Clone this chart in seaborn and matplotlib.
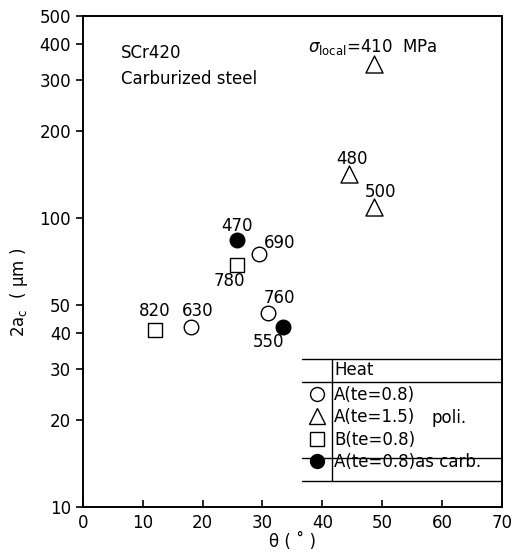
import matplotlib
matplotlib.use("Agg")
import matplotlib.pyplot as plt
import seaborn as sns
import pandas as pd
from matplotlib.ticker import NullLocator

# Data: theta (deg), 2ac (um), local stress (MPa)
theta_a08 = [18, 31, 29.5]
ac_a08 = [42, 47, 75]
sig_a08 = [630, 760, 690]

theta_a15 = [48.6, 44.5, 48.6]
ac_a15 = [340, 142, 109]
sig_a15 = [410, 480, 500]

theta_b08 = [12, 25.7]
ac_b08 = [41, 69]
sig_b08 = [820, 780]

theta_carb = [25.8, 33.5]
ac_carb = [84, 42]
sig_carb = [470, 550]

groups = ["A(te=0.8)", "A(te=1.5)", "B(te=0.8)", "A(te=0.8)as carb."]
y_ticks = [10, 20, 30, 40, 50, 100, 200, 300, 400, 500]
x_ticks = [0, 10, 20, 30, 40, 50, 60, 70]

df = pd.DataFrame({
    "theta": theta_a08 + theta_a15 + theta_b08 + theta_carb,
    "ac": ac_a08 + ac_a15 + ac_b08 + ac_carb,
    "sigma": sig_a08 + sig_a15 + sig_b08 + sig_carb,
    "group": [groups[0]] * 3 + [groups[1]] * 3 + [groups[2]] * 2 + [groups[3]] * 2,
})

# label offsets in pixels (per sigma value)
label_off = {630: (7, 16), 820: (0, 19), 760: (11, 15), 550: (-15, -15),
             470: (0, 14), 690: (20, 11), 780: (-7, -16),
             480: (3, 15), 500: (7, 15)}

sns.set_style("ticks")
plt.rcParams['font.family'] = ['DejaVu Sans']
plt.rcParams['text.color'] = 'black'
plt.rcParams['axes.labelcolor'] = 'black'
plt.rcParams['xtick.color'] = 'black'
plt.rcParams['ytick.color'] = 'black'
plt.rcParams['axes.edgecolor'] = 'black'

fig = plt.figure(figsize=(5.24, 5.58), dpi=100)
ax = fig.add_axes([0.158, 0.0914, 0.800, 0.880])

styles = {
    groups[0]: dict(marker="o", facecolor="white"),
    groups[1]: dict(marker="^", facecolor="white"),
    groups[2]: dict(marker="s", facecolor="white"),
    groups[3]: dict(marker="o", facecolor="black"),
}
sizes = {groups[0]: 110, groups[1]: 150, groups[2]: 110, groups[3]: 110}

handles = []
for g in groups:
    sub = df[df["group"] == g]
    sns.scatterplot(data=sub, x="theta", y="ac", ax=ax, marker=styles[g]["marker"],
                    s=sizes[g], facecolor=styles[g]["facecolor"], edgecolor="black",
                    linewidth=1.0, zorder=3)
    handles.append(plt.Line2D([], [], ls="none", marker=styles[g]["marker"],
                              markersize=10 if g != groups[1] else 11,
                              markerfacecolor=styles[g]["facecolor"],
                              markeredgecolor="black", markeredgewidth=1.0))

for _, r in df.iterrows():
    s = int(r["sigma"])
    if s == 410:
        ax.annotate(r"$\sigma_{\mathrm{local}}$=410  MPa", (r["theta"], r["ac"]),
                    xytext=(-1, 17), textcoords="offset pixels",
                    ha="center", va="center", fontsize=12)
    else:
        ax.annotate(str(s), (r["theta"], r["ac"]), xytext=label_off[s],
                    textcoords="offset pixels", ha="center", va="center", fontsize=12)

ax.set_yscale("log")
ax.set_xlim(0, 70)
ax.set_ylim(10, 500)
ax.set_yticks(y_ticks)
ax.set_yticklabels([str(v) for v in y_ticks])
ax.yaxis.set_minor_locator(NullLocator())
ax.set_xticks(x_ticks)
ax.tick_params(axis="x", direction="in", length=5, width=1.2, labelsize=12, pad=5)
ax.tick_params(axis="y", direction="out", length=5, width=1.2, labelsize=12)
for sp in ax.spines.values():
    sp.set_linewidth(1.4)
    sp.set_visible(True)

ax.set_xlabel("θ ( ˚ )", fontsize=12, labelpad=1)
ax.set_ylabel(r"2a$_\mathrm{c}$  ( μm )", fontsize=12)
ax.yaxis.set_label_coords(-0.126, 0.438)

ax.text(0.091, 0.925, "SCr420", transform=ax.transAxes, fontsize=12, va="center")
ax.text(0.091, 0.872, "Carburized steel", transform=ax.transAxes, fontsize=12, va="center")

# table-style legend
for yy in [0.301, 0.255, 0.100, 0.053]:
    ax.plot([0.523, 1.0], [yy, yy], transform=ax.transAxes, color="black", lw=1.0)
ax.plot([0.594, 0.594], [0.053, 0.301], transform=ax.transAxes, color="black", lw=1.0)
ax.text(0.599, 0.278, "Heat", transform=ax.transAxes, fontsize=12, va="center")
ax.text(0.833, 0.181, "poli.", transform=ax.transAxes, fontsize=12, va="center")

leg = ax.legend(handles, groups, loc="upper left", bbox_to_anchor=(0.540, 0.247),
                frameon=False, fontsize=12, borderpad=0, borderaxespad=0,
                handlelength=1.0, handletextpad=0.5, labelspacing=0.27)

fig.savefig("out.png", dpi=100)
